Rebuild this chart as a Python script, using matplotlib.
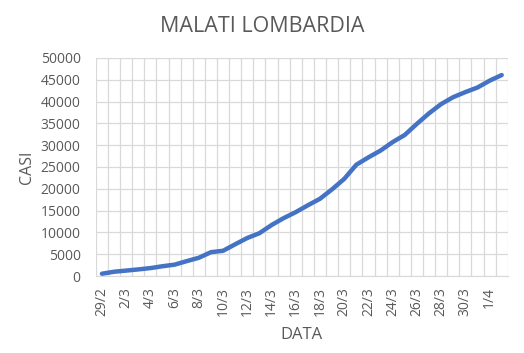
import matplotlib
matplotlib.use('Agg')
import matplotlib.pyplot as plt
import numpy as np

# daily dates (29/2 -> 2/4) and total cases in Lombardia
dates = ['29/2', '1/3', '2/3', '3/3', '4/3', '5/3', '6/3', '7/3', '8/3', '9/3',
         '10/3', '11/3', '12/3', '13/3', '14/3', '15/3', '16/3', '17/3', '18/3',
         '19/3', '20/3', '21/3', '22/3', '23/3', '24/3', '25/3', '26/3', '27/3',
         '28/3', '29/3', '30/3', '31/3', '1/4', '2/4']
casi = [531, 984, 1254, 1520, 1820, 2251, 2612, 3420, 4189, 5469,
        5791, 7280, 8725, 9820, 11685, 13272, 14649, 16220, 17713,
        19884, 22264, 25515, 27206, 28761, 30703, 32346, 34889, 37298,
        39415, 41007, 42161, 43208, 44773, 46065]
y_ticks = list(range(0, 50001, 5000))

plt.rcParams['font.family'] = ['Open Sans', 'DejaVu Sans']
grey = '#595959'

fig = plt.figure(figsize=(5.24, 3.53), dpi=100)
ax = fig.add_axes([0.183, 0.218, 0.786, 0.618])

x = np.arange(len(dates))
ax.plot(x, casi, color='#4472C4', linewidth=3.2, solid_capstyle='round')

ax.set_xlim(-0.5, len(dates) - 0.5)
ax.set_ylim(0, 50000)
ax.set_yticks(y_ticks)
ax.set_yticklabels([str(v) for v in y_ticks], fontsize=10, color=grey)
ax.set_xticks(x[::2])
ax.set_xticklabels(dates[::2], rotation=90, fontsize=10, color=grey)
ax.set_xticks(np.arange(-0.5, len(dates), 1), minor=True)

# grid like excel: vertical lines between categories
ax.grid(False)
ax.grid(which='minor', axis='x', color='#d9d9d9', linewidth=0.9)
ax.grid(which='major', axis='y', color='#d9d9d9', linewidth=0.9)
ax.set_axisbelow(True)
ax.tick_params(axis='y', which='both', length=0, pad=11)
ax.tick_params(axis='x', which='both', length=0, pad=8)
for s in ['top', 'left', 'right']:
    ax.spines[s].set_visible(False)
ax.spines['bottom'].set_color('#d9d9d9')

ax.set_xlabel('DATA', fontsize=12, color=grey, labelpad=8)
ax.set_ylabel('CASI', fontsize=11.5, color=grey, labelpad=4)
fig.text(0.5, 0.925, 'MALATI LOMBARDIA', ha='center', va='center',
         fontsize=15.5, color=grey)

fig.savefig('out.png', dpi=100)
